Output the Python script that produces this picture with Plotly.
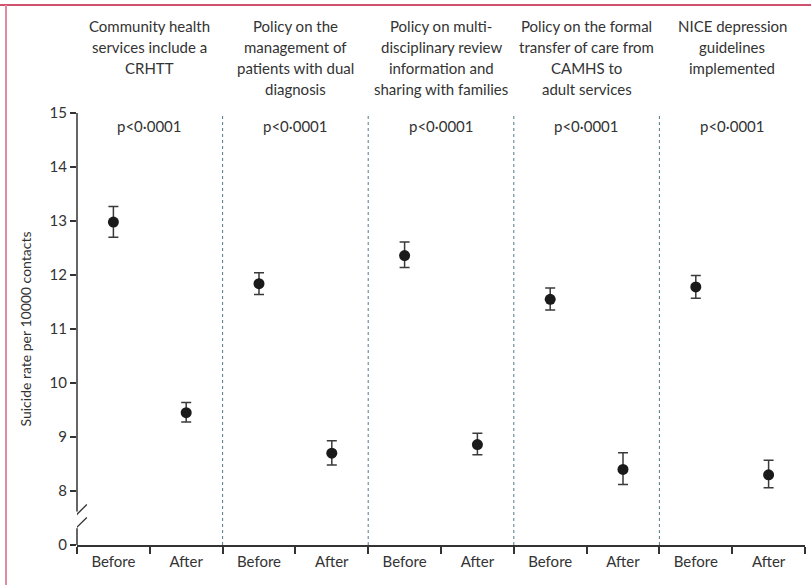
import plotly.graph_objects as go

# Panels (service changes) and their headings
panels = [
    "Community health<br>services include a<br>CRHTT",
    "Policy on the<br>management of<br>patients with dual<br>diagnosis",
    "Policy on multi-<br>disciplinary review<br>information and<br>sharing with families",
    "Policy on the formal<br>transfer of care from<br>CAMHS to<br>adult services",
    "NICE depression<br>guidelines<br>implemented",
]
p_values = ["p<0·0001"] * 5
periods = ["Before", "After"]

# Suicide rate per 10000 contacts with 95% CI, per panel: before, after
rate_before = [12.98, 11.84, 12.36, 11.55, 11.78]
low_before = [12.70, 11.64, 12.14, 11.35, 11.57]
high_before = [13.27, 12.04, 12.61, 11.76, 11.99]
rate_after = [9.45, 8.70, 8.86, 8.40, 8.30]
low_after = [9.28, 8.48, 8.67, 8.12, 8.06]
high_after = [9.64, 8.93, 9.07, 8.71, 8.57]

# Y tick values; the axis is broken below 8, so position 7 carries the "0" label
y_tickvals = [7, 8, 9, 10, 11, 12, 13, 14, 15]
y_ticktext = ["0", "8", "9", "10", "11", "12", "13", "14", "15"]

AX = "#333333"
FONT = "Lato"
PLOT_H = 432  # plot area height in px (y=15 at top, y=7 at bottom)
BOTTOM = 545  # pixel row of the x axis

xs, ys, up, dn = [], [], [], []
for i in range(len(panels)):
    for j, (m, lo, hi) in enumerate([(rate_before[i], low_before[i], high_before[i]),
                                     (rate_after[i], low_after[i], high_after[i])]):
        xs.append(2 * i + j)
        ys.append(m)
        up.append(hi - m)
        dn.append(m - lo)

fig = go.Figure()
fig.add_trace(go.Scatter(
    x=xs, y=ys, mode="markers",
    marker=dict(size=11, color="#1a1a1a"),
    error_y=dict(type="data", symmetric=False, array=up, arrayminus=dn,
                 color="#3a3a3a", thickness=1.5, width=5),
    showlegend=False, hoverinfo="skip",
))

shapes = []
# dashed separators between panels
for k in range(1, len(panels)):
    shapes.append(dict(type="line", xref="x", yref="y", x0=2 * k - 0.5, x1=2 * k - 0.5,
                       y0=7, y1=15, line=dict(color="#56788c", width=1, dash="3px,3px")))
# y-axis line with a break between 0 and 8
shapes.append(dict(type="line", xref="paper", yref="y", x0=0, x1=0, y0=7.62, y1=15,
                   line=dict(color=AX, width=1.5)))
shapes.append(dict(type="line", xref="paper", yref="y", x0=0, x1=0, y0=7, y1=7.31,
                   line=dict(color=AX, width=1.5)))
for yc in (7.57, 7.33):
    shapes.append(dict(type="line", xref="x", yref="y",
                       x0=-0.5 - 0.135, x1=-0.5 + 0.135, y0=yc - 0.18, y1=yc + 0.18,
                       line=dict(color=AX, width=1.3)))
# page frame rules
shapes.append(dict(type="line", xref="paper", yref="paper", x0=-77 / 728, x1=1 + 6 / 728,
                   y0=(BOTTOM - 5) / PLOT_H, y1=(BOTTOM - 5) / PLOT_H,
                   line=dict(color="#c0183e", width=1.5)))
shapes.append(dict(type="line", xref="paper", yref="paper", x0=-71 / 728, x1=-71 / 728,
                   y0=(BOTTOM - 5) / PLOT_H, y1=(BOTTOM - 590) / PLOT_H,
                   line=dict(color="#e28aa2", width=2)))

annotations = []
for i, title in enumerate(panels):
    # one annotation per heading line, 21 px apart
    for n, line in enumerate(title.split("<br>")):
        annotations.append(dict(x=2 * i + 0.5, xref="x",
                                y=(BOTTOM - (26 + 21 * n)) / PLOT_H, yref="paper",
                                text=line, showarrow=False, yanchor="middle", xanchor="center",
                                font=dict(family=FONT, size=15, color=AX)))
    annotations.append(dict(x=2 * i + 0.5, xref="x", y=14.76, yref="y",
                            text=p_values[i], showarrow=False,
                            font=dict(family=FONT, size=15, color=AX)))

fig.update_layout(
    width=811, height=585,
    margin=dict(l=77, r=6, t=113, b=40),
    paper_bgcolor="white", plot_bgcolor="white",
    font=dict(family=FONT, size=15, color=AX),
    shapes=shapes, annotations=annotations,
    xaxis=dict(
        range=[-0.5, 9.5], tickvals=list(range(10)),
        ticktext=periods * len(panels), ticks="outside", ticklen=2, tickcolor="white",
        showline=True, linecolor=AX, linewidth=1.5, showgrid=False, zeroline=False,
        minor=dict(ticks="outside", ticklen=7, tickwidth=1.5, tickcolor=AX,
                   tickvals=[k - 0.5 for k in range(11)], showgrid=False),
        tickfont=dict(family=FONT, size=15, color=AX),
    ),
    yaxis=dict(
        range=[7, 15], tickvals=y_tickvals, ticktext=y_ticktext,
        ticks="outside", ticklen=6, tickwidth=1.5, tickcolor=AX,
        showline=False, showgrid=False, zeroline=False,
        tickfont=dict(family=FONT, size=15, color=AX),
        title=dict(text="Suicide rate per 10000 contacts", standoff=14,
                   font=dict(family=FONT, size=14, color=AX)),
    ),
)

fig.write_html("out.html")
